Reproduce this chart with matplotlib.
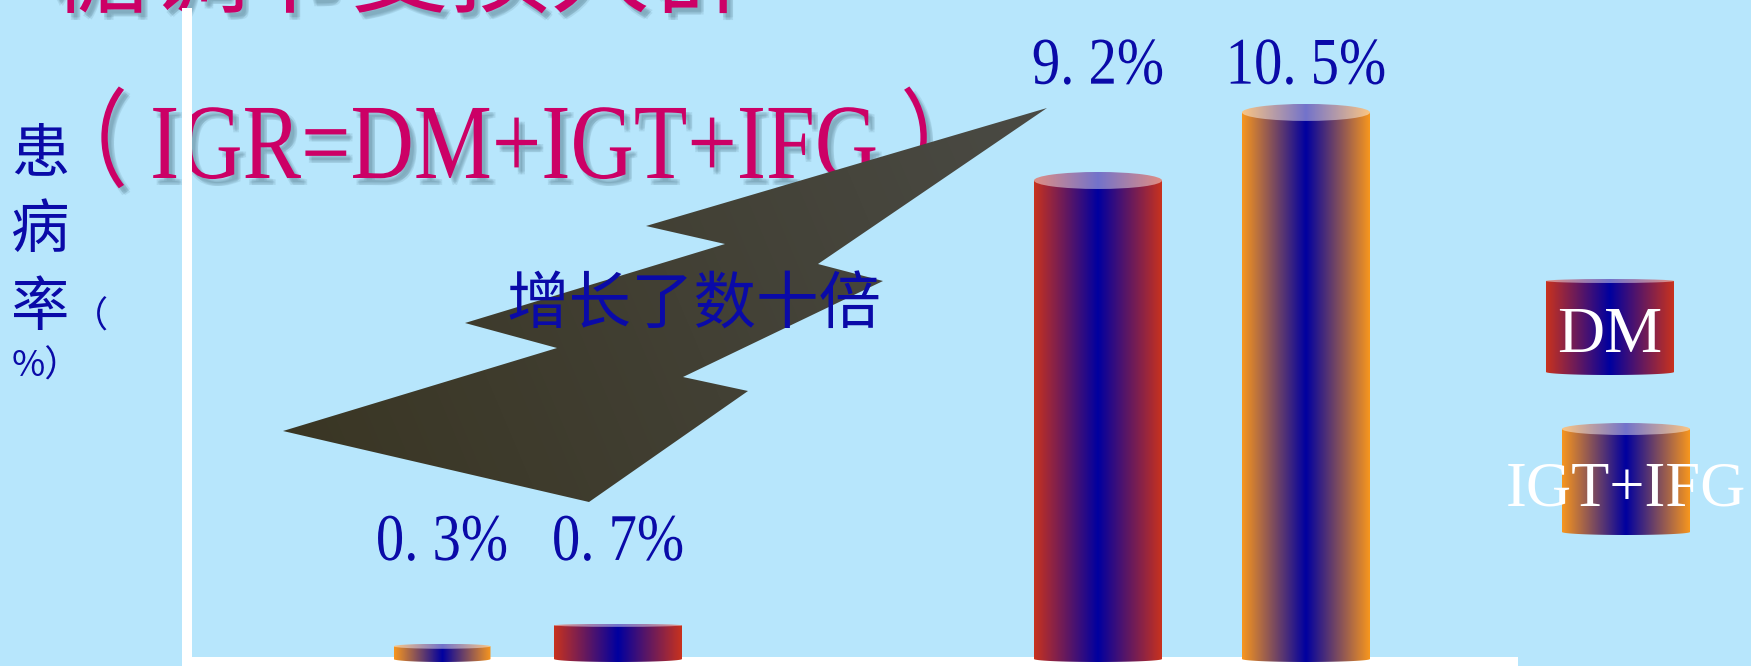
import numpy as np
import matplotlib
matplotlib.use('Agg')
import matplotlib.pyplot as plt
import matplotlib.patheffects as pe
from matplotlib import colors as mcolors
from matplotlib.path import Path
from matplotlib.patches import PathPatch, Ellipse, Polygon
from matplotlib.transforms import Affine2D

# prevalence (%) for the two surveys
series_names = ['DM', 'IGT+IFG']
bar_series = ['IGT+IFG', 'DM', 'DM', 'IGT+IFG']
bar_values = [0.3, 0.7, 9.2, 10.5]
bar_group = [0, 0, 1, 1]

title_top = '糖调节受损人群'
title_sub = '（ IGR=DM+IGT+IFG ）'
ylabel_chars = '患病率'
ylabel_unit = ['（', '%）']
note_text = '增长了数十倍'

W, H = 1751, 666
bg = '#B7E6FC'
magenta = '#CC0066'
navy = '#0A0AA8'
shadow = '#5F8799'
core = np.array(mcolors.to_rgb('#0000A0'))
edge_colors = {'DM': '#C8321E', 'IGT+IFG': '#F7961E'}

cjk = ['Noto Sans CJK SC', 'DejaVu Sans']
serif = ['Liberation Serif', 'Noto Sans CJK SC']

# layout of the bars (x in 100 px units)
bar_x = [2.55, 4.31, 9.11, 11.19]
bar_w = [0.97, 1.28, 1.28, 1.28]
cap_px = [2.5, 1.5, 8.5, 8.5]
label_pad = [1.25, 0.55]
y_top = 12.4


class Squeeze(pe.AbstractPathEffect):
    """Draw text narrower than the font, optionally as an offset shadow."""

    def __init__(self, sx=1.0, offset=(0, 0), color=None, alpha=1.0):
        super().__init__(offset)
        self.sx = sx
        self.color = color
        self.alpha = alpha

    def draw_path(self, renderer, gc, tpath, affine, rgbFace=None):
        v = tpath.vertices
        cx = (v[:, 0].min() + v[:, 0].max()) / 2 if len(v) else 0
        sq = Affine2D().translate(-cx, 0).scale(self.sx, 1).translate(cx, 0)
        gc0 = renderer.new_gc()
        gc0.copy_properties(gc)
        if self.color is not None:
            rgbFace = mcolors.to_rgba(self.color, self.alpha)
            gc0.set_foreground(rgbFace)
        renderer.draw_path(gc0, tpath, sq + affine + self._offset_transform(renderer), rgbFace)
        gc0.restore()


def soft_shadow(sx):
    # a few faint offset copies give a blurred drop shadow
    effects = []
    for ox, oy in [(3.5, -4), (2.5, -3), (4.5, -5), (2.5, -5), (4.5, -3)]:
        effects.append(Squeeze(sx, (ox, oy), shadow, 0.16))
    return effects + [Squeeze(sx)]


def shade(edge, n=256):
    t = np.abs(np.linspace(-1, 1, n))[:, None]
    return (1 - t) * core + t * np.array(mcolors.to_rgb(edge))


def cylinder(ax, x0, x1, y0, y1, edge, cap_h, foot_h, z):
    body = shade(edge)
    xc = (x0 + x1) / 2
    th = np.linspace(np.pi, 2 * np.pi, 40)
    bx = xc + (x1 - x0) / 2 * np.cos(th)
    by = y0 + foot_h + foot_h * np.sin(th)
    verts = [(x0, y1)] + list(zip(bx, by)) + [(x1, y1), (x0, y1)]
    clip = PathPatch(Path(verts, closed=True), transform=ax.transData)
    im = ax.imshow(body[None], extent=(x0, x1, y0, y1), aspect='auto',
                   interpolation='bilinear', zorder=z)
    im.set_clip_path(clip)
    if cap_h > 0:
        cap = body * 0.55 + 0.45
        ell = Ellipse((xc, y1), x1 - x0, 2 * cap_h, transform=ax.transData)
        im2 = ax.imshow(cap[None], extent=(x0, x1, y1 - cap_h, y1 + cap_h),
                        aspect='auto', interpolation='bilinear', zorder=z + 0.1)
        im2.set_clip_path(ell)


fig = plt.figure(figsize=(W / 100, H / 100), dpi=100, facecolor=bg)

back = fig.add_axes([0, 0, 1, 1], zorder=0)
back.set_facecolor('none')
back.set_xlim(0, W)
back.set_ylim(0, H)
back.axis('off')

ax = fig.add_axes([187 / W, 4 / H, (1513 - 187) / W, (662 - 13) / H], zorder=1)
ax.set_facecolor('none')

front = fig.add_axes([0, 0, 1, 1], zorder=2)
front.set_facecolor('none')
front.set_xlim(0, W)
front.set_ylim(0, H)
front.axis('off')

# titles sit underneath the axis line and the arrow
back.text(400, H - 5, title_top, ha='center', va='baseline', fontsize=72,
          color=magenta, family=cjk, path_effects=soft_shadow(1.0))
back.text(521, H - 178, title_sub, ha='center', va='baseline', fontsize=77,
          color=magenta, family=serif, path_effects=soft_shadow(0.82))

# bars
ax.set_xlim(0, 13.26)
ax.set_ylim(0, y_top)
bars = ax.bar(bar_x, bar_values, width=bar_w, color='none', edgecolor='none')
dy = y_top / ax.bbox.height
for i, b in enumerate(bars):
    x0 = b.get_x()
    x1 = x0 + b.get_width()
    h = b.get_height()
    cylinder(ax, x0, x1, 0, h, edge_colors[bar_series[i]], cap_px[i] * dy, 3 * dy, 3)
    b.set_visible(False)

for i, v in enumerate(bar_values):
    g = bar_group[i]
    top = max(val for val, gg in zip(bar_values, bar_group) if gg == g)
    label = f'{v:.1f}%'.replace('.', '. ')
    ax.text(bar_x[i], top + label_pad[g], label, ha='center', va='baseline',
            fontsize=48, color=navy, family=serif, zorder=5,
            path_effects=[Squeeze(0.85)])

ax.set_xlim(0, 13.26)
ax.set_ylim(0, y_top)
ax.set_xticks([])
ax.set_yticks([])
for side in ['top', 'right']:
    ax.spines[side].set_visible(False)
for side in ['left', 'bottom']:
    ax.spines[side].set_color('white')
    ax.spines[side].set_linewidth(7.2)

# zigzag arrow
bolt = np.array([(1047, 108), (646, 226), (725, 244), (465, 323), (557, 348),
                 (283, 431), (589, 502), (748, 391), (683, 377), (883, 281),
                 (818, 264)], dtype=float)
bolt[:, 1] = H - bolt[:, 1]
bx0, by0 = bolt.min(axis=0)
bx1, by1 = bolt.max(axis=0)
gx, gy = np.meshgrid(np.linspace(bx0, bx1, 200), np.linspace(by1, by0, 120))
d = np.array([1047 - 283, 431 - 108], dtype=float)
t = ((gx - 283) * d[0] + (gy - (H - 431)) * d[1]) / (d @ d)
t = np.clip(t, 0, 1)[..., None]
dark = np.array([58, 54, 36]) / 255
light = np.array([74, 74, 68]) / 255
bolt_img = (1 - t) * dark + t * light
poly = Polygon(bolt, closed=True, transform=front.transData)
im = front.imshow(bolt_img, extent=(bx0, bx1, by0, by1), aspect='auto',
                  interpolation='bilinear', zorder=1)
im.set_clip_path(poly)

front.text(694, H - 306, note_text, ha='center', va='center', fontsize=45,
           color=navy, family=cjk, zorder=3)

# y label, stacked characters
for ch, yc in zip(ylabel_chars, [155, 231, 309]):
    front.text(40, H - yc, ch, ha='center', va='center', fontsize=42,
               color=navy, family=cjk)
front.text(90, H - 318, ylabel_unit[0], ha='center', va='center', fontsize=26,
           color=navy, family=cjk)
front.text(12, H - 367, ylabel_unit[1], ha='left', va='center', fontsize=26,
           color=navy, family=cjk)

# legend swatches
leg = {'DM': (1546, 1674, 375, 281, 2, 352, 47),
       'IGT+IFG': (1562, 1690, 535, 429, 6, 505, 45)}
for name in series_names:
    x0, x1, yb, yt, ch, base, fs = leg[name]
    cylinder(front, x0, x1, H - yb, H - yt, edge_colors[name], ch, 3, 2)
    front.text((x0 + x1) / 2, H - base, name, ha='center', va='baseline',
               fontsize=fs, color='white', family='Liberation Serif', zorder=4)

front.set_xlim(0, W)
front.set_ylim(0, H)

fig.savefig('out.png', dpi=100, facecolor=bg)
